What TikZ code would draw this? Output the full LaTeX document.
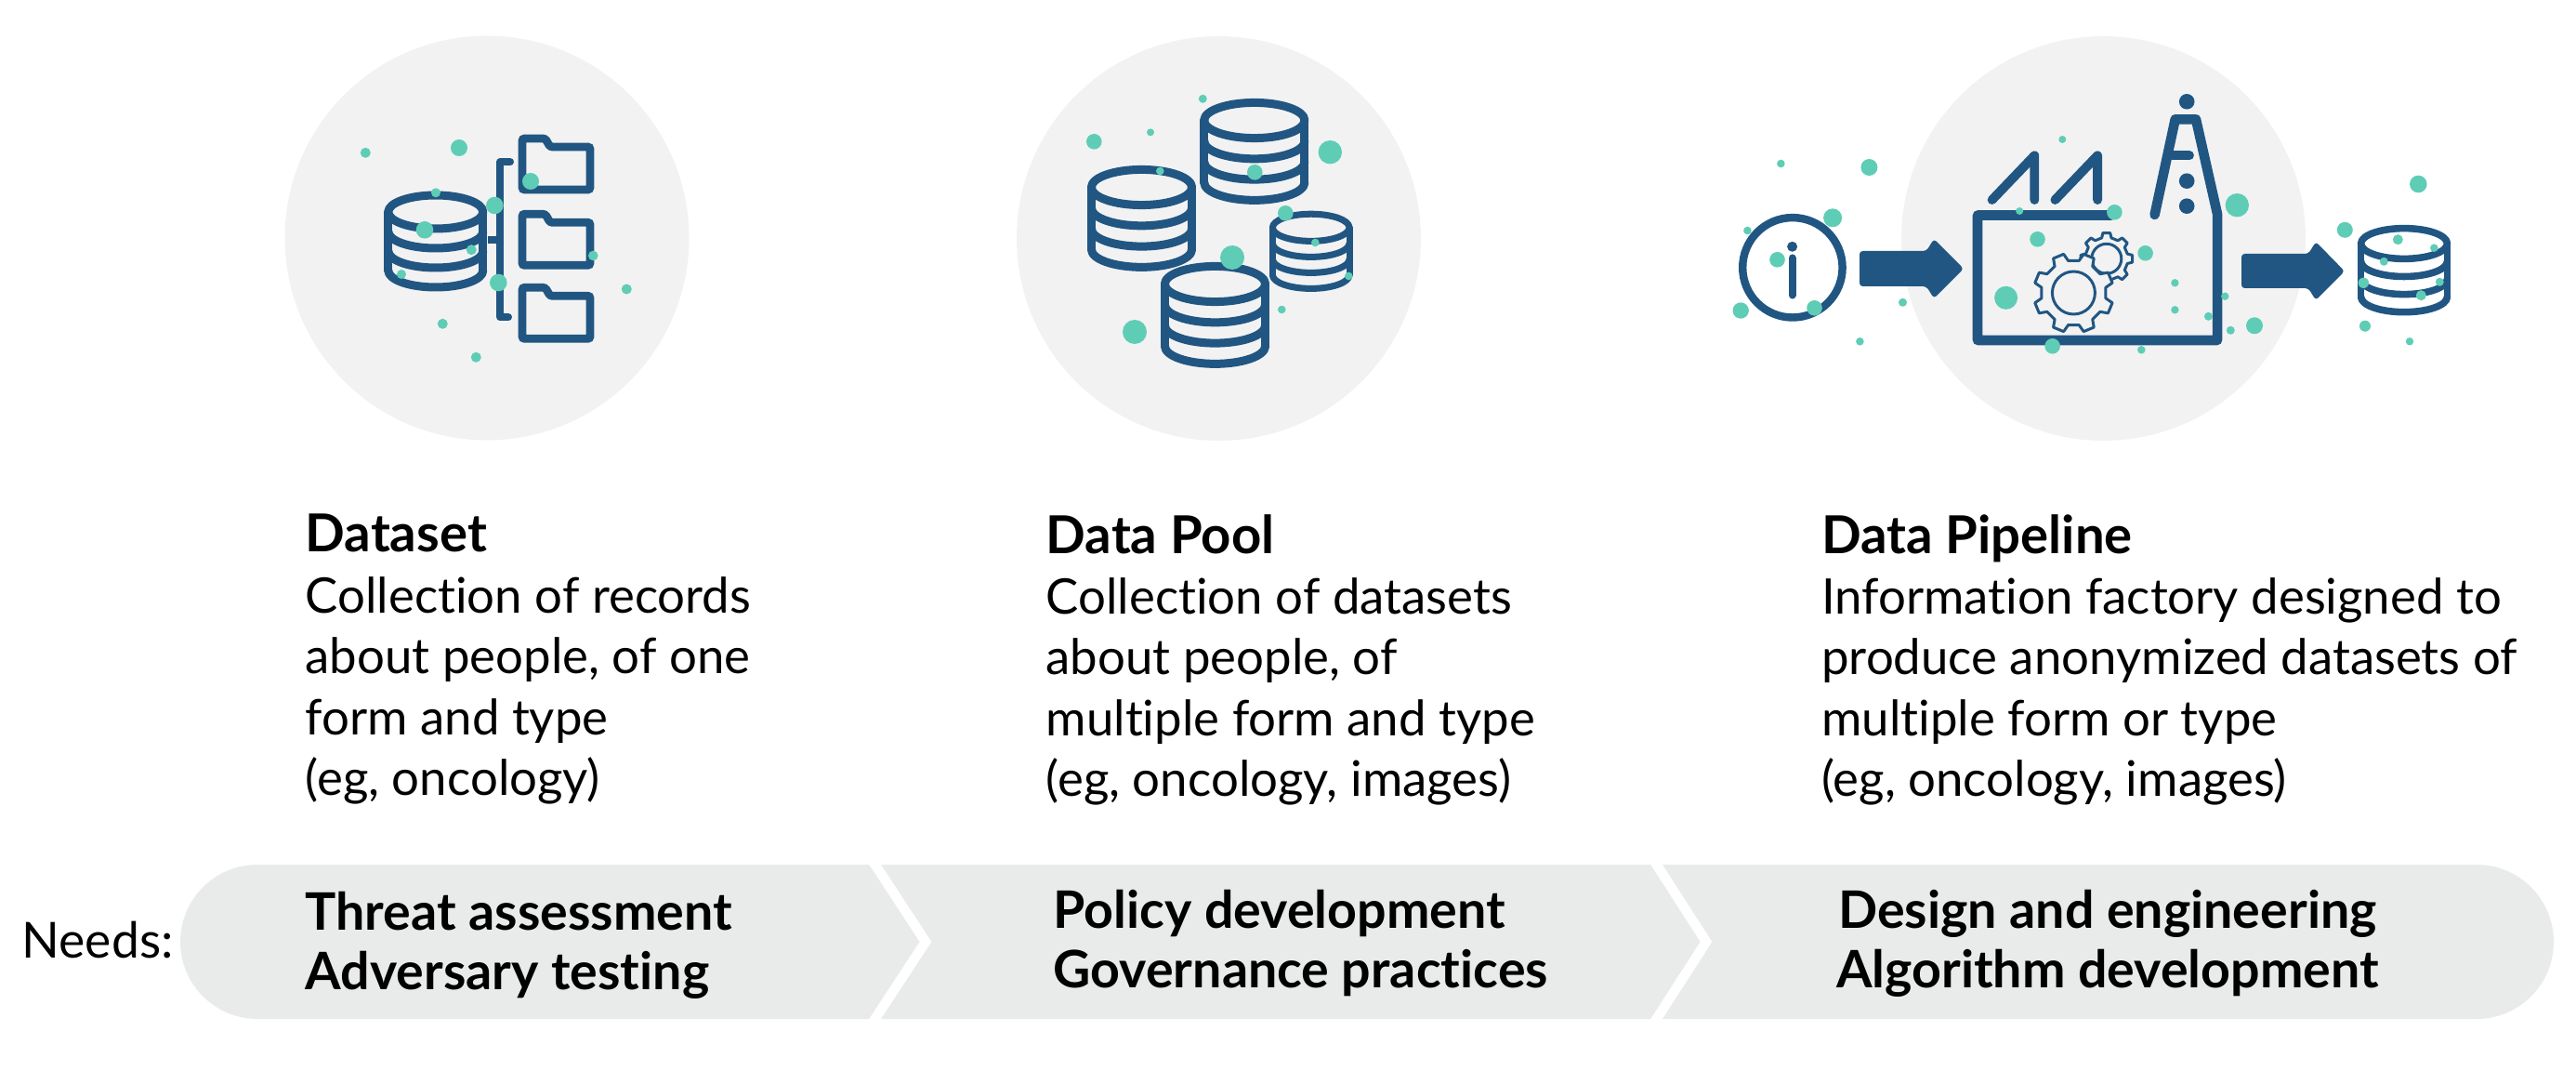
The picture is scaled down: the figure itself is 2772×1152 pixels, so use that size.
\documentclass[tikz,border=0pt]{standalone}
\usepackage{fontspec}
\setmainfont{Lato}[Ligatures=NoCommon]
\definecolor{navy}{HTML}{215682}
\definecolor{teal}{HTML}{5FCDB6}
\definecolor{disc}{HTML}{F2F2F2}
\definecolor{band}{HTML}{E9EBEB}
\newcommand\headfont{\fontsize{16}{18.6}\selectfont\bfseries}
\tikzset{
  iconline/.style={navy,line cap=round,line join=round},
  bodytext/.style={anchor=north west,inner sep=0pt,align=left,font=\fontsize{15}{18.6}\selectfont},
  needtext/.style={anchor=north west,inner sep=0pt,align=left,font=\fontsize{15.8}{18.2}\selectfont\bfseries},
  gearline/.style={navy,line width=0.85pt,line join=round,fill=disc},
}
\newcommand\dbicon[4]{%
\begin{scope}[shift={(#1,#2)},scale=#3]
\draw[iconline,line width=#4pt] (-51,0) .. controls (-51,-10) and (-28,-18) .. (0,-18) .. controls (28,-18) and (51,-10) .. (51,0)
  .. controls (51,10) and (28,18) .. (0,18) .. controls (-28,18) and (-51,10) .. (-51,0) -- cycle;
\draw[iconline,line width=#4pt] (-51,0) -- (-51,63) (51,0) -- (51,63);
\foreach \o in {21,42,63}{
\draw[iconline,line width=#4pt] (-51,\o) .. controls (-51,\o+10) and (-28,\o+18) .. (0,\o+18) .. controls (28,\o+18) and (51,\o+10) .. (51,\o);
}
\end{scope}}
\newcommand\foldericon[2]{%
\draw[navy,line width=2.5pt,rounded corners=0.7pt] (#1,#2) -- ++(24.7,0) -- ++(5.3,9) -- ++(43,0) -- ++(0,46) -- ++(-73,0) -- cycle;}
\newcommand\gearicon[6]{%
\begin{scope}[shift={(#1,#2)}]
\draw[gearline] (#5-13:#3) \foreach \a in {0,45,...,315}{ -- (\a+#5-13:#3) -- (\a+#5-8:#4) -- (\a+#5+8:#4) -- (\a+#5+13:#3)} -- cycle;
\draw[gearline] (0,0) circle (#6);
\end{scope}}
\begin{document}
\begin{tikzpicture}[x=0.01cm,y=-0.01cm]
\useasboundingbox (0,0) rectangle (2772,1152);
% discs
\fill[disc] (524,256) circle (217.5);
\fill[disc] (1311.5,256.5) circle (217.5);
\fill[disc] (2263.5,256.5) circle (217.5);
% band
\fill[band] (277,930) -- (2665,930) arc (-90:90:83) -- (277,1096) arc (90:270:83) -- cycle;
\draw[white,line width=3pt] (939,926) -- (996,1013) -- (939,1100);
\draw[white,line width=3pt] (1780,926) -- (1836,1013) -- (1780,1100);
% dataset icon
\dbicon{468.8}{228}{1}{2.56}
\foldericon{562}{149}
\foldericon{562}{230.3}
\foldericon{562}{309.3}
\draw[iconline,line width=2.3pt] (549,174.3) -- (538.3,174.3) -- (538.3,341.3) -- (547,341.3);
\draw[navy,line width=2.3pt] (525,257.7) -- (538.3,257.7);
% data pool icon
\dbicon{1349.8}{129.5}{1.06}{2.56}
\dbicon{1228.5}{201.5}{1.06}{2.56}
\dbicon{1307.5}{305.5}{1.06}{2.56}
\dbicon{1410.7}{244.8}{0.81}{2}
% pipeline icon
\draw[navy,line width=2.4pt] (1928.9,287.8) circle (53.7);
\fill[navy] (1928.6,265.3) circle (5.5);
\draw[iconline,line width=2.3pt] (1928.6,277.5) -- (1928.6,317.5);
\fill[navy,rounded corners=1pt] (2001,270) -- (2073,270) -- (2081,257) -- (2113,289) -- (2081,321) -- (2073,308) -- (2001,308) -- cycle;
\fill[navy,rounded corners=1pt] (2412,273) -- (2484,273) -- (2492,260) -- (2523,291.7) -- (2492,323) -- (2484,310) -- (2412,310) -- cycle;
\draw[navy,line width=3pt,line join=round,line cap=round] (2272,231.5) -- (2128,231.5) -- (2128,366) -- (2386,366) -- (2386,230) -- (2363,128.3) -- (2340.7,128.3) -- (2318.6,231);
\draw[iconline,line width=2.8pt] (2143.6,215) -- (2189.3,167.3) -- (2189.3,215);
\draw[iconline,line width=2.8pt] (2211.4,215) -- (2257.1,167.3) -- (2257.1,215);
\draw[iconline,line width=2.8pt] (2338,167.3) -- (2356,167.3);
\foreach \y in {109.3,194.7,221.7} \fill[navy] (2353.2,\y) circle (8.3);
\gearicon{2266.8}{278.3}{23}{28}{0}{16}
\gearicon{2231.4}{315}{35}{43}{22.5}{23}
\dbicon{2587}{262}{0.91}{2.15}
% particles
\foreach \x/\y/\r in {
393.3/164.3/5.5,494/159/9,571/195/9,469/207.3/5,532.3/221/9.3,457/247.3/9.3,507.3/268.7/5.5,638.3/275/5.3,432/295/5,536.3/304/9.3,674.3/311/5.5,476.3/348.3/5.5,512.3/384.3/5.5,
1294.3/106.3/4.5,1238/142.3/4,1177.3/152.3/8.3,1431.3/163.7/12.7,1248.3/184/4.3,1350.3/185.3/8.3,1383.3/229.3/8.3,1415.3/261/4.3,1326/277/13,1451.3/297/4.3,1379.3/333/4.3,1221/357/13,
1916.4/176/4.3,2011.4/180/9,1972.1/234.3/10,1880.4/248/4.3,1912.5/279.3/8.3,1873.2/334/8.7,1952.5/331.3/8.3,2047.5/325.3/4.5,2001.4/367.3/4.3,2219.3/150/4,2173.2/227/4,2275.4/228.3/8.3,2192.5/257.3/8.3,2308.6/272.3/8.3,2158.6/320.3/12.5,2340.4/304.3/4.2,2340.4/333.3/4.2,2394.3/318.7/4.2,2376.4/340.3/4.5,2208.6/372.3/8.3,2304.3/376.3/4.3,
2407.3/220.7/12.7,2400.3/355.3/4.5,2426/350.3/9,2602.3/198/9.3,2523.3/247.3/8.5,2580.3/257.7/5.5,2619.3/266.7/4.3,2565.3/281.3/4.5,2543.3/304.3/5.7,2625.3/303.3/4.5,2605.3/317.7/5.5,2545/350.7/6,2593/367.3/4.2}
  \fill[teal] (\x,\y) circle (\r);
% texts
\node[bodytext] (dataset) at (328,552.5) {{\headfont Dataset}\\Collection of records\\about people, of one\\form and type\\(eg, oncology)};
\node[bodytext] (pool) at (1125,552.5) {{\headfont Data Pool}\\Collection of datasets\\about people, of\\multiple form and type\\(eg, oncology, images)};
\node[bodytext] (pipeline) at (1959.6,552.5) {{\headfont Data Pipeline}\\Information factory designed to\\produce anonymized datasets of\\multiple form or type\\(eg, oncology, images)};
\node[anchor=north west,inner sep=0pt,font=\fontsize{15.2}{18.6}\selectfont] (needs) at (23,990) {Needs:};
\node[needtext] (need1) at (328,959) {Threat assessment\\Adversary testing};
\node[needtext] (need2) at (1133,957) {Policy development\\Governance practices};
\node[needtext,align=center,anchor=north] (need3) at (2268,957) {Design and engineering\\Algorithm development};
\end{tikzpicture}
\end{document}
